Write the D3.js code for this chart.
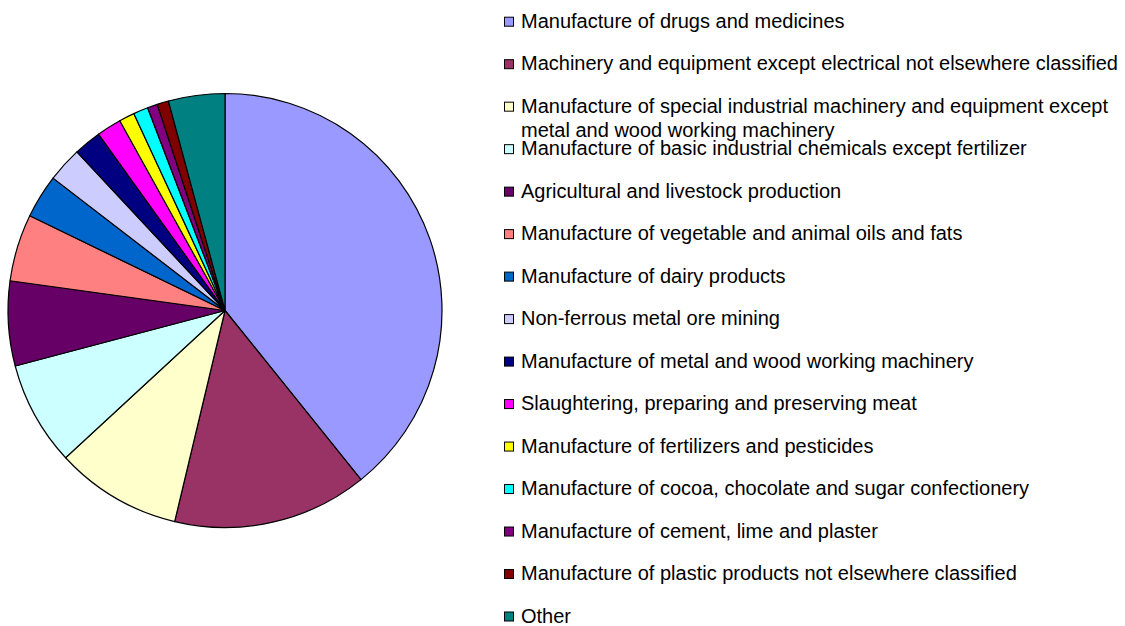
<!DOCTYPE html>
<html>
<head>
<meta charset="utf-8">
<script src="https://cdn.jsdelivr.net/npm/d3@7"></script>
<style>
  html, body { margin: 0; padding: 0; background: #fff; }
  svg { display: block; }
  .legend text { font-family: "Liberation Sans", Arial, sans-serif; fill: #000; }
</style>
</head>
<body>
<div id="chart"></div>
<script>
// industry labels (legend order = slice order, clockwise from 12 o'clock)
const categories = [
    ['Manufacture of drugs and medicines'],
    ['Machinery and equipment except electrical not elsewhere classified'],
    ['Manufacture of special industrial machinery and equipment except', 'metal and wood working machinery'],
    ['Manufacture of basic industrial chemicals except fertilizer'],
    ['Agricultural and livestock production'],
    ['Manufacture of vegetable and animal oils and fats'],
    ['Manufacture of dairy products'],
    ['Non-ferrous metal ore mining'],
    ['Manufacture of metal and wood working machinery'],
    ['Slaughtering, preparing and preserving meat'],
    ['Manufacture of fertilizers and pesticides'],
    ['Manufacture of cocoa, chocolate and sugar confectionery'],
    ['Manufacture of cement, lime and plaster'],
    ['Manufacture of plastic products not elsewhere classified'],
    ['Other']
];
// shares in percent
const values = [39.2, 14.5, 9.4, 7.75, 6.3, 5.0, 3.25, 2.6, 2.05, 1.85, 1.15, 1.1, 0.75, 0.85, 4.2];
const colors = ['#9999FF', '#993366', '#FFFFCC', '#CCFFFF', '#660066', '#FF8080', '#0066CC',
    '#CCCCFF', '#000080', '#FF00FF', '#FFFF00', '#00FFFF', '#800080', '#800000', '#008080'];

const width = 1125, height = 626;
const cx = 225, cy = 310.5, radius = 217;

const svg = d3.select('#chart').append('svg')
    .attr('width', width)
    .attr('height', height);

const color = d3.scaleOrdinal()
    .domain(d3.range(values.length))
    .range(colors);

const pie = d3.pie()
    .sort(null)
    .value(d => d);

const arc = d3.arc()
    .innerRadius(0)
    .outerRadius(radius);

svg.append('g')
    .attr('transform', 'translate(' + cx + ',' + cy + ')')
  .selectAll('path')
    .data(pie(values))
    .join('path')
    .attr('d', arc)
    .attr('fill', (d, i) => color(i))
    .attr('stroke', '#000')
    .attr('stroke-width', 1.2)
    .attr('stroke-linejoin', 'round');

// legend
const legendY = d3.scaleLinear()
    .domain([0, categories.length - 1])
    .range([27.7, 622.5]);

const legend = svg.append('g')
    .classed('legend', true);

const item = legend.selectAll('g')
    .data(categories)
    .join('g')
    .attr('transform', (d, i) => 'translate(0,' + legendY(i) + ')');

item.append('rect')
    .attr('x', 504.5)
    .attr('y', -10.5)
    .attr('width', 9)
    .attr('height', 9)
    .attr('fill', (d, i) => color(i))
    .attr('stroke', '#000')
    .attr('stroke-width', 1);

item.append('text')
    .attr('x', 521)
    .attr('font-size', '20px')
  .selectAll('tspan')
    .data(d => d)
    .join('tspan')
    .attr('x', 521)
    .attr('dy', (d, i) => i === 0 ? 0 : 24)
    .text(d => d);
</script>
</body>
</html>
